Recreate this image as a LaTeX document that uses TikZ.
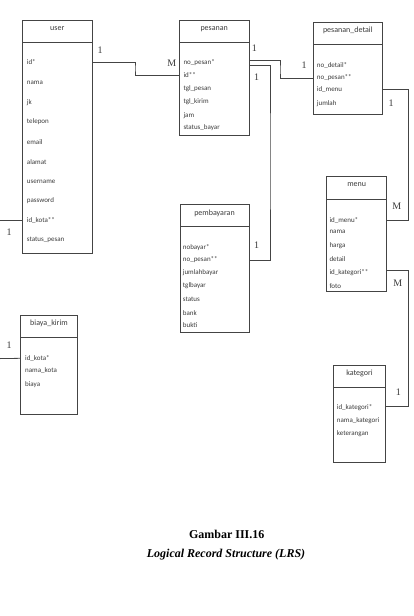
\documentclass[tikz,border=0pt]{standalone}
\usepackage{fontspec}
\setmainfont{Liberation Serif}
\newfontfamily\entfont{Carlito}
\usetikzlibrary{calc}
\definecolor{txt}{HTML}{3A3A3A}
\definecolor{ln}{HTML}{444444}
\begin{document}
\begin{tikzpicture}[x=1pt,y=-1pt,
  entity/.style={draw=ln,line width=0.8pt,anchor=north west,inner sep=0pt,outer sep=0pt},
  hline/.style={draw=ln,line width=0.8pt},
  conn/.style={draw=ln,line width=0.8pt},
  ttl/.style={font=\entfont\fontsize{8}{9}\selectfont,text=txt,inner sep=0pt},
  row/.style={font=\entfont\fontsize{7}{8}\selectfont,text=txt,inner sep=0pt,anchor=west},
  card/.style={font=\fontsize{10}{11}\selectfont,text=txt,inner sep=0pt}]
\useasboundingbox (0,0) rectangle (414,616);

% ---------- user ----------
\node[entity,minimum width=69.3pt,minimum height=232.6pt] (user) at (22.7,20.7) {};
\draw[hline] ([yshift=-21.6pt]user.north west) -- ([yshift=-21.6pt]user.north east);
\node[ttl] (userT) at (57.3,28.8) {user};
\node[row] (u1) at (26.7,62) {id*};
\node[row] (u2) at (26.7,83) {nama};
\node[row] (u3) at (26.7,103) {jk};
\node[row] (u4) at (26.7,122) {telepon};
\node[row] (u5) at (26.7,142) {email};
\node[row] (u6) at (26.7,162) {alamat};
\node[row] (u7) at (26.7,182) {username};
\node[row] (u8) at (26.7,201) {password};
\node[row] (u9) at (26.7,220) {id\_kota**};
\node[row] (u10) at (26.7,240) {status\_pesan};

% ---------- pesanan ----------
\node[entity,minimum width=69.7pt,minimum height=115pt] (pesanan) at (179.3,20) {};
\draw[hline] ([yshift=-22.3pt]pesanan.north west) -- ([yshift=-22.3pt]pesanan.north east);
\node[ttl] (pesananT) at (214.2,28.8) {pesanan};
\node[row] (p1) at (183.3,62.7) {no\_pesan*};
\node[row] (p2) at (183.3,75) {id**};
\node[row] (p3) at (183.3,89) {tgl\_pesan};
\node[row] (p4) at (183.3,101.7) {tgl\_kirim};
\node[row] (p5) at (183.3,115.7) {jam};
\node[row] (p6) at (183.3,128) {status\_bayar};

% ---------- pesanan_detail ----------
\node[entity,minimum width=69pt,minimum height=91.7pt] (detail) at (313.3,22.3) {};
\draw[hline] ([yshift=-21.7pt]detail.north west) -- ([yshift=-21.7pt]detail.north east);
\node[ttl] (detailT) at (347.8,30.7) {pesanan\_detail};
\node[row] (d1) at (316.7,65) {no\_detail*};
\node[row] (d2) at (316.7,77.3) {no\_pesan**};
\node[row] (d3) at (316.7,90) {id\_menu};
\node[row] (d4) at (316.7,103.3) {jumlah};

% ---------- pembayaran ----------
\node[entity,minimum width=69pt,minimum height=127.7pt] (bayar) at (180,204.3) {};
\draw[hline] ([yshift=-21.7pt]bayar.north west) -- ([yshift=-21.7pt]bayar.north east);
\node[ttl] (bayarT) at (214.5,213) {pembayaran};
\node[row] (b1) at (182.7,247.3) {nobayar*};
\node[row] (b2) at (182.7,259.3) {no\_pesan**};
\node[row] (b3) at (182.7,272.7) {jumlahbayar};
\node[row] (b4) at (182.7,286) {tglbayar};
\node[row] (b5) at (182.7,299.3) {status};
\node[row] (b6) at (182.7,312.7) {bank};
\node[row] (b7) at (182.7,325) {bukti};

% ---------- menu ----------
\node[entity,minimum width=60pt,minimum height=114.3pt] (menu) at (326.7,176.7) {};
\draw[hline] ([yshift=-22.6pt]menu.north west) -- ([yshift=-22.6pt]menu.north east);
\node[ttl] (menuT) at (356.7,185) {menu};
\node[row] (m1) at (329.3,220) {id\_menu*};
\node[row] (m2) at (329.3,232.3) {nama};
\node[row] (m3) at (329.3,245.7) {harga};
\node[row] (m4) at (329.3,259) {detail};
\node[row] (m5) at (329.3,272.3) {id\_kategori**};
\node[row] (m6) at (329.3,285.7) {foto};

% ---------- kategori ----------
\node[entity,minimum width=52.4pt,minimum height=97pt] (kategori) at (333.3,365.7) {};
\draw[hline] ([yshift=-21.6pt]kategori.north west) -- ([yshift=-21.6pt]kategori.north east);
\node[ttl] (kategoriT) at (359.5,373.7) {kategori};
\node[row] (k1) at (336.7,407.3) {id\_kategori*};
\node[row] (k2) at (336.7,420.7) {nama\_kategori};
\node[row] (k3) at (336.7,434) {keterangan};

% ---------- biaya_kirim ----------
\node[entity,minimum width=56.6pt,minimum height=98.3pt] (biaya) at (20.7,315.7) {};
\draw[hline] ([yshift=-22pt]biaya.north west) -- ([yshift=-22pt]biaya.north east);
\node[ttl] (biayaT) at (49,323.7) {biaya\_kirim};
\node[row] (c1) at (25,358.3) {id\_kota*};
\node[row] (c2) at (25,370.7) {nama\_kota};
\node[row] (c3) at (25,384.3) {biaya};

% ---------- bend coordinates ----------
\coordinate (bUP) at (135,68);
\coordinate (bPD) at (280,70);
\coordinate (bPB) at (270,160);
\coordinate (bDM) at (408.3,150);
\coordinate (bMK) at (408.3,340);
\coordinate (lU) at (0,220);
\coordinate (lB) at (0,358.6);

% ---------- connectors ----------
\draw[conn] ([yshift=-0.5pt]user.east |- u1) -| (bUP) |- (pesanan.west |- p2);
\draw[conn] ([yshift=2pt]pesanan.east |- p1) -| (bPD) |- ([yshift=-1pt]detail.west |- d2);
\draw[conn] ([yshift=-3pt]pesanan.east |- p1) -| (bPB) |- ([yshift=-0.7pt]bayar.east |- b2);
\draw[conn] ([yshift=0.7pt]detail.east |- d3) -| (bDM) |- ([yshift=-0.7pt]menu.east |- m1);
\draw[conn] ([yshift=1.6pt]menu.east |- m5) -| (bMK) |- ([yshift=1.3pt]kategori.east |- k1);
\draw[conn] (user.west |- u9) -- (lU);
\draw[conn] (biaya.west |- c1) -- (lB);

% ---------- cardinalities ----------
\node[card] (n1) at (100,50) {1};
\node[card] (n2) at (171.7,63.5) {M};
\node[card] (n3) at (254.3,47.7) {1};
\node[card] (n4) at (256.7,76.7) {1};
\node[card] (n5) at (304,65) {1};
\node[card] (n6) at (256.7,245) {1};
\node[card] (n7) at (391,103.3) {1};
\node[card] (n8) at (396.7,206) {M};
\node[card] (n9) at (397.7,283.3) {M};
\node[card] (n10) at (398.3,391.7) {1};
\node[card] (n11) at (9,232) {1};
\node[card] (n12) at (9,345) {1};

% ---------- caption ----------
\node[font=\bfseries\fontsize{12}{14}\selectfont,inner sep=0pt] (cap1) at (226.7,534) {Gambar III.16};
\node[font=\bfseries\itshape\fontsize{12}{14}\selectfont,inner sep=0pt] (cap2) at (226,555) {Logical Record Structure (LRS)};
\end{tikzpicture}
\end{document}
